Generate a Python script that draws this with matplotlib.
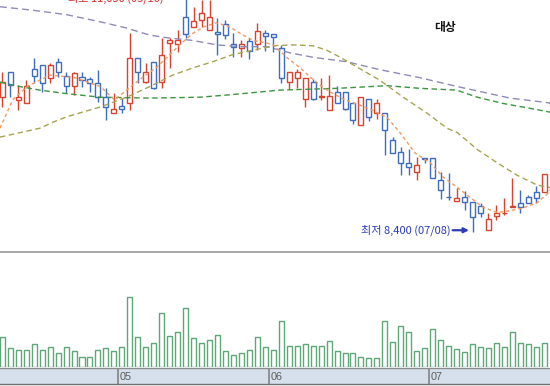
import matplotlib
matplotlib.use('Agg')
import matplotlib.pyplot as plt
from matplotlib.lines import Line2D
import numpy as np

plt.rcParams['font.family'] = ['Noto Sans CJK KR', 'DejaVu Sans']

# ---------------- data ----------------
title = '대상'
opens = [9920, 10200, 9890, 9850, 10240, 10280, 10140, 10320, 10160, 10050,
         10150, 10130, 10080, 9920, 9740, 9820, 9850, 10360, 10090, 10320,
         10090, 10530, 10520, 10820, 10710, 10790, 10680, 10650, 10750, 10520,
         10480, 10550, 10520, 10640, 10630, 10470, 10090, 10140, 9900, 10090,
         9920, 9780, 9980, 9980, 9850, 9610, 9900, 9740, 9740, 9440,
         9300, 9180, 9080, 9230, 9230, 8990, 8800, 8750, 8790, 8740,
         8690, 8420, 8580, 8610, 8680, 8730, 8790, 8850, 8850]
highs = [10200, 10200, 10060, 10110, 10360, 10280, 10310, 10360, 10200, 10200,
         10200, 10150, 10230, 10020, 9970, 9910, 10640, 10360, 10310, 10320,
         10590, 10590, 10680, 11050, 10940, 11020, 11020, 10810, 10790, 10640,
         10570, 10590, 10760, 10680, 10630, 10510, 10200, 10240, 10140, 10130,
         10140, 10170, 10050, 9980, 9850, 9920, 9900, 9900, 9740, 9470,
         9360, 9340, 9250, 9230, 9230, 9080, 9060, 8900, 8860, 8740,
         8730, 8620, 8700, 8780, 9010, 8870, 8820, 8920, 9050]
lows = [9810, 9920, 9780, 9850, 10080, 9980, 10080, 10150, 9970, 9950,
        10040, 9980, 9870, 9660, 9740, 9740, 9780, 10080, 10080, 10010,
        10020, 10250, 10430, 10590, 10710, 10710, 10680, 10400, 10580, 10370,
        10370, 10350, 10450, 10440, 10430, 10080, 10010, 10020, 9810, 9890,
        9890, 9780, 9850, 9780, 9620, 9610, 9650, 9670, 9270, 9290,
        9040, 9040, 8990, 9180, 9010, 8770, 8760, 8750, 8650, 8400,
        8570, 8420, 8540, 8590, 8680, 8610, 8730, 8730, 8850]
closes = [10090, 10060, 9920, 10050, 10160, 10080, 10280, 10200, 10050, 10190,
          10110, 10080, 9920, 9810, 9790, 9790, 10360, 10200, 10200, 10020,
          10400, 10570, 10570, 10630, 10780, 10870, 10820, 10630, 10620, 10490,
          10520, 10440, 10670, 10610, 10600, 10140, 10200, 10200, 10140, 9900,
          9930, 9930, 9850, 9790, 9660, 9920, 9700, 9850, 9550, 9290,
          9180, 9130, 9160, 9220, 9010, 8870, 8790, 8780, 8740, 8570,
          8610, 8550, 8620, 8620, 8690, 8680, 8730, 8780, 9050]
volumes = [148000, 94000, 85000, 85000, 114000, 85000, 102000, 72000, 98000, 80000,
           52000, 52000, 85000, 94000, 80000, 102000, 348000, 148000, 102000, 122000,
           272000, 155000, 177000, 293000, 143000, 122000, 135000, 158000, 80000, 60000,
           68000, 85000, 152000, 102000, 85000, 228000, 107000, 107000, 114000, 107000,
           107000, 130000, 80000, 68000, 68000, 48000, 43000, 43000, 230000, 125000,
           205000, 177000, 80000, 97000, 192000, 133000, 107000, 88000, 75000, 114000,
           102000, 94000, 118000, 102000, 177000, 118000, 114000, 102000, 118000]

# moving averages: (day index, price)
ma5_days = [-0.3, 1.3, 3.1, 6.0, 9.1, 12.3, 14.1, 15.6, 17.7, 19.4, 21.0, 22.5, 23.9,
            25.2, 26.9, 28.6, 30.2, 31.5, 33.2, 34.0, 35.8, 37.4, 38.6, 40.1, 41.1,
            43.0, 44.9, 46.5, 48.3, 49.9, 51.8, 53.7, 55.3, 57.0, 58.7, 60.3, 62.1,
            63.7, 65.3, 67.1, 68.3, 68.8]
ma5_vals = [9570, 9890, 10040, 10170, 10140, 10040, 9890, 10000, 10150, 10260, 10400,
            10530, 10640, 10710, 10760, 10710, 10620, 10560, 10530, 10510, 10360,
            10250, 10150, 10040, 9980, 9890, 9830, 9770, 9690, 9520, 9290, 9180,
            9020, 8910, 8790, 8680, 8620, 8640, 8670, 8730, 8820, 8880]
ma20_days = [-0.3, 2.2, 4.7, 6.4, 8.1, 12.3, 15.6, 18.5, 21.4, 23.9, 26.4, 28.9,
             31.5, 34.0, 36.5, 39.0, 40.7, 42.4, 44.5, 47.4, 50.3, 53.3, 55.8, 57.1,
             59.6, 62.1, 64.6, 67.1, 68.8]
ma20_vals = [9470, 9520, 9570, 9640, 9700, 9810, 9920, 10040, 10170, 10250, 10320,
             10400, 10450, 10500, 10510, 10500, 10450, 10370, 10260, 10110, 9920,
             9740, 9570, 9520, 9330, 9180, 9040, 8930, 8900]
ma60_days = [-0.3, 2.2, 4.7, 8.1, 12.3, 18.5, 24.8, 28.9, 34.8, 42.0, 48.3, 52.4,
             57.0, 59.6, 62.8, 67.1, 68.8]
ma60_vals = [10090, 10040, 10000, 9960, 9920, 9910, 9920, 9950, 10000, 10020, 10050,
             10020, 10000, 9920, 9850, 9780, 9750]
ma120_days = [-0.3, 3.9, 8.1, 12.3, 15.6, 18.5, 20.7, 23.9, 26.9, 29.8, 33.2, 36.1,
              39.0, 43.2, 47.4, 52.4, 57.1, 63.7, 68.3, 68.8]
ma120_vals = [10940, 10900, 10850, 10770, 10700, 10620, 10590, 10560, 10510, 10490,
              10490, 10420, 10370, 10320, 10230, 10140, 10040, 9910, 9860, 9850]

month_labels = ['05', '06', '07']
month_first_day = [15, 34, 54]

high_idx, high_val, high_label = 23, 11050, '최고 11,050 (05/10)'
low_idx, low_val, low_label = 59, 8400, '최저 8,400 (07/08)'

# ---------------- styling ----------------
RED = '#d8432f'
BLUE = '#3d6cc0'
W, H = 550, 386
fig = plt.figure(figsize=(W / 100, H / 100), dpi=100)
fig.patch.set_facecolor('white')

xlim = (-0.29, 68.72)

def fb(top_px, bot_px):
    return [0, (H - bot_px) / H, 1, (bot_px - top_px) / H]

ax = fig.add_axes(fb(0, 251))
axv = fig.add_axes(fb(252, 367))
axb = fig.add_axes(fb(368, 384))

x = np.arange(len(opens))
o = np.array(opens, float)
c = np.array(closes, float)
hi = np.array(highs, float)
lo = np.array(lows, float)
cols = [RED if cc >= oo else BLUE for oo, cc in zip(o, c)]

ax.vlines(x, lo, hi, colors=cols, lw=1.0, zorder=2)
ax.bar(x, np.abs(c - o), bottom=np.minimum(o, c), width=0.63,
       facecolor='white', edgecolor=cols, linewidth=1.0, zorder=3)

ax.plot(ma120_days, ma120_vals, color='#8e8cb6', lw=1.0, ls=(0, (5, 3)), zorder=4)
ax.plot(ma60_days, ma60_vals, color='#3c9440', lw=1.0, ls=(0, (4, 2.5)), zorder=4)
ax.plot(ma20_days, ma20_vals, color='#a8a452', lw=1.0, ls=(0, (4, 2.5)), zorder=4)
ax.plot(ma5_days, ma5_vals, color='#f09a62', lw=1.0, ls=(0, (2.5, 2)), zorder=4)

ax.set_xlim(*xlim)
ax.set_ylim(8186, 11016)
ax.axis('off')

ax.text(0.809, 0.892, title, transform=ax.transAxes, ha='center', va='center',
        fontsize=8.5, fontweight='bold', color='#111111')

# low annotation
ax.text(low_idx - 2.7, low_val + 20, low_label, ha='right', va='center',
        fontsize=8, color='#2a3cb8', zorder=5)
ax.annotate('', xy=(low_idx - 0.45, low_val + 20), xytext=(low_idx - 2.5, low_val + 20),
            arrowprops=dict(arrowstyle='-|>', color='#2a3cb8', lw=1.6,
                            mutation_scale=7, shrinkA=0, shrinkB=0), zorder=5)
# high annotation (partly above the visible area, as in the source chart)
ax.text(high_idx - 2.8, high_val - 10, high_label, ha='right', va='center',
        fontsize=8, color='#d42a2a', zorder=5, clip_on=False)
ax.annotate('', xy=(high_idx - 0.45, high_val), xytext=(high_idx - 2.5, high_val),
            arrowprops=dict(arrowstyle='-|>', color='#d42a2a', lw=1.6,
                            mutation_scale=7, shrinkA=0, shrinkB=0), zorder=5)

# volume
axv.bar(x, volumes, width=0.63, facecolor='white', edgecolor='#5ea878', linewidth=1.0)
axv.set_xlim(*xlim)
axv.set_ylim(0, 575000)
axv.axis('off')

# date band
axb.set_xlim(*xlim)
axb.set_ylim(0, 1)
axb.set_facecolor('#d6e0ed')
for s in axb.spines.values():
    s.set_visible(False)
axb.set_xticks([])
axb.set_yticks([])
for lab, d in zip(month_labels, month_first_day):
    axb.axvline(d - 0.5, color='#8a8a8a', lw=1.3)
    axb.text(d - 0.5 + 0.2, 0.45, lab, ha='left', va='center', fontsize=7.8,
             color='#5c5c5c', family='Liberation Sans')

# separator lines
fig.add_artist(Line2D([0, 1], [(H - 251.6) / H] * 2, color='#a0a0a0', lw=1.3))
fig.add_artist(Line2D([0, 1], [(H - 367.6) / H] * 2, color='#8c8c8c', lw=1.0))
fig.add_artist(Line2D([0, 1], [(H - 383.8) / H] * 2, color='#707070', lw=1.0))

fig.savefig('out.png', dpi=100, facecolor='white')
